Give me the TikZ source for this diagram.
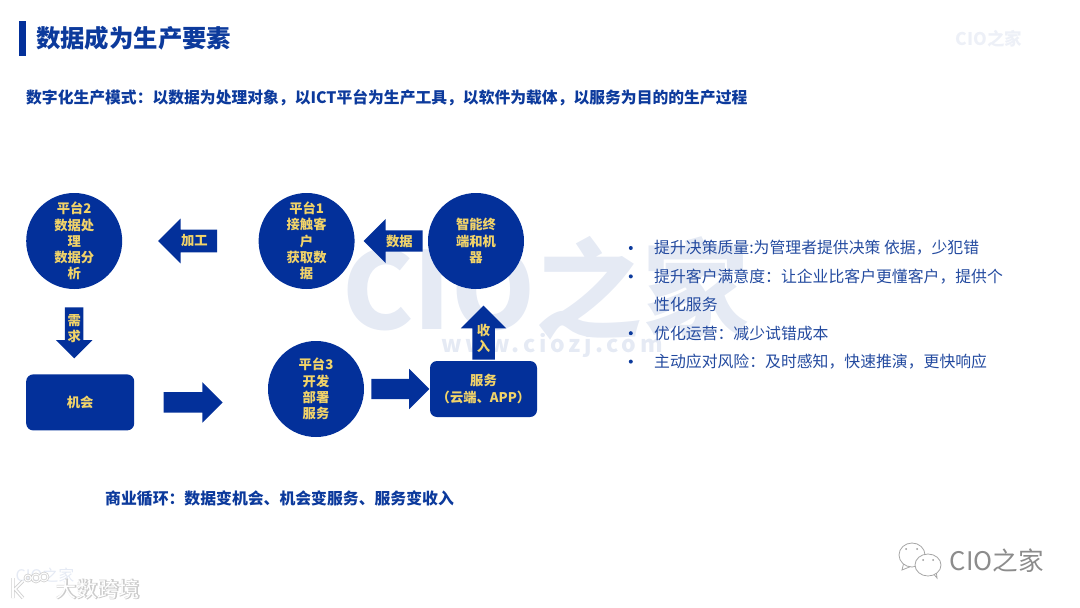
\documentclass[tikz,border=0pt]{standalone}
\usepackage{fontspec}
\usepackage{xcolor}
\usetikzlibrary{shapes.arrows, positioning}
\setmainfont{Noto Sans CJK SC}
\newfontfamily\spacedfont[LetterSpace=16]{Noto Sans CJK SC}
\newfontfamily\outlinefont[FakeBold=6]{Noto Sans CJK SC}
\definecolor{deepblue}{HTML}{03309A}
\definecolor{headblue}{HTML}{0C3A9C}
\definecolor{bodyblue}{HTML}{234A9F}
\definecolor{labelgold}{HTML}{F1D369}
\definecolor{markpale}{HTML}{E5EAF4}

\begin{document}
\begin{tikzpicture}[
    x=1pt, y=-1pt,
    platform/.style={circle, fill=deepblue, text=labelgold, minimum size=96pt, inner sep=0pt, align=center, font=\fontsize{13.3}{16.2}\selectfont\bfseries},
    servicebox/.style={rectangle, rounded corners=7pt, fill=deepblue, text=labelgold, align=center, font=\fontsize{13.3}{16.2}\selectfont\bfseries},
    blockarrow/.style={single arrow, fill=deepblue, text=labelgold, inner sep=0pt, align=center, font=\fontsize{13.3}{16.2}\selectfont\bfseries},
    headline/.style={anchor=west, text=headblue, inner sep=0pt, font=\fontsize{15.85}{20}\selectfont\bfseries},
    point/.style={anchor=west, text=bodyblue, inner sep=0pt, font=\fontsize{15.85}{20}\selectfont},
    dot/.style={circle, fill=headblue, minimum size=4pt, inner sep=0pt},
    bubble/.style={draw=black!35, fill=white, line width=0.8pt}
]
\useasboundingbox (0,0) rectangle (1080,608);

% watermarks
\node[text=markpale, inner sep=0pt, font=\fontsize{107}{110}\selectfont\bfseries] (bigmark) at (546,288) {CIO之家};
\node[text=markpale, inner sep=0pt, font=\fontsize{23}{26}\spacedfont\bfseries] (webmark) at (552,345) {www.ciozj.com};
\node[text=markpale!70, inner sep=0pt, font=\fontsize{17.5}{20}\selectfont\bfseries] (topmark) at (989,39) {CIO之家};
\node[text=markpale, inner sep=0pt, font=\fontsize{16}{20}\selectfont] (lowmark) at (45,575) {CIO之家};

% title
\fill[deepblue] (19,21) rectangle (26,56);
\node[headline, font=\fontsize{24.4}{28}\selectfont\bfseries] (title) at (36,38) {数据成为生产要素};
\node[headline, font=\fontsize{15.8}{20}\selectfont\bfseries] (mode) at (26,98) {数字化生产模式：以数据为处理对象，以ICT平台为生产工具，以软件为载体，以服务为目的的生产过程};

% flow
\node[platform] (terminal) at (476,241) {智能终\\端和机\\器};
\node[platform, left=73pt of terminal] (plat1) {平台1\\接触客\\户\\获取数\\据};
\node[platform, left=136pt of plat1] (plat2) {平台2\\数据处\\理\\数据分\\析};
\node[servicebox, minimum width=108pt, minimum height=56pt, below=85pt of plat2, xshift=6pt] (chance) {机会};
\node[platform] (plat3) at (316,389) {平台3\\开发\\部署\\服务};
\node[servicebox, minimum width=107pt, minimum height=56pt] (service) at (483.5,389) {服务\\（云端、APP）};

\node[blockarrow, minimum height=59pt, single arrow head extend=11pt, inner ysep=5pt, shape border rotate=180, left=41pt of plat1] (processarrow) {\hspace{2pt}加工};
\node[blockarrow, minimum height=59pt, single arrow head extend=11.5pt, inner ysep=4pt, shape border rotate=180, left=5pt of terminal] (dataarrow) {\hspace{2pt}数据};
\node[blockarrow, minimum height=51pt, single arrow head extend=9pt, inner xsep=2.4pt, shape border rotate=270, below=18pt of plat2] (needarrow) {需\\求};
\node[blockarrow, minimum height=59pt, single arrow head extend=10pt, inner ysep=10pt, right=29pt of chance] (chancearrow) {};
\node[blockarrow, minimum height=58pt, single arrow head extend=10pt, inner ysep=10pt, right=7pt of plat3] (servearrow) {};
\node[blockarrow, minimum height=54pt, single arrow head extend=11.5pt, inner xsep=4.4pt, shape border rotate=90, above=1pt of service] (incomearrow) {收\\入};

\node[headline] (cycle) at (105,499) {商业循环：数据变机会、机会变服务、服务变收入};

% bullet list
\node[point] (good1) at (654,248) {提升决策质量:为管理者提供决策 依据，少犯错};
\node[point, below=28.4pt of good1.west, anchor=west] (good2) {提升客户满意度：让企业比客户更懂客户，提供个};
\node[point, below=28.4pt of good2.west, anchor=west] (good2b) {性化服务};
\node[point, below=28.4pt of good2b.west, anchor=west] (good3) {优化运营：减少试错成本};
\node[point, below=28.4pt of good3.west, anchor=west] (good4) {主动应对风险：及时感知，快速推演，更快响应};
\foreach \item in {good1,good2,good3,good4}
    \node[dot, left=21pt of \item.west] (\item dot) {};

% corner marks
\draw[bubble] (904,562) -- (902,570) -- (912,566);
\draw[bubble] (912,555) ellipse (13 and 12);
\draw[bubble] (932,572) -- (937,578) -- (936,570);
\draw[bubble] (928,565) ellipse (13 and 11);
\fill[black!40] (906,549) circle (1) (917,549) circle (1) (923,560) circle (1) (933,560) circle (1);
\node[text=black!45, inner sep=0pt, font=\fontsize{25.6}{28}\selectfont] (wechatname) at (997,561) {CIO之家};

\draw[black!18, line width=3.4pt] (13,578) -- (13,598) (23,581) -- (15,589) -- (23,598);
\draw[black!18, line width=2.6pt] (28,578) circle (3) (36,578) circle (4) (44,577) circle (4);
\draw[white, line width=1.6pt] (13,578) -- (13,598) (23,581) -- (15,589) -- (23,598);
\draw[white, line width=1pt] (28,578) circle (3) (36,578) circle (4) (44,577) circle (4);
\node[text=black!20, inner sep=0pt, font=\fontsize{21}{24}\outlinefont] (logoshade) at (98,589) {大数跨境};
\node[text=white, inner sep=0pt, font=\fontsize{21}{24}\selectfont] (logoname) at (98,589) {大数跨境};
\end{tikzpicture}
\end{document}
